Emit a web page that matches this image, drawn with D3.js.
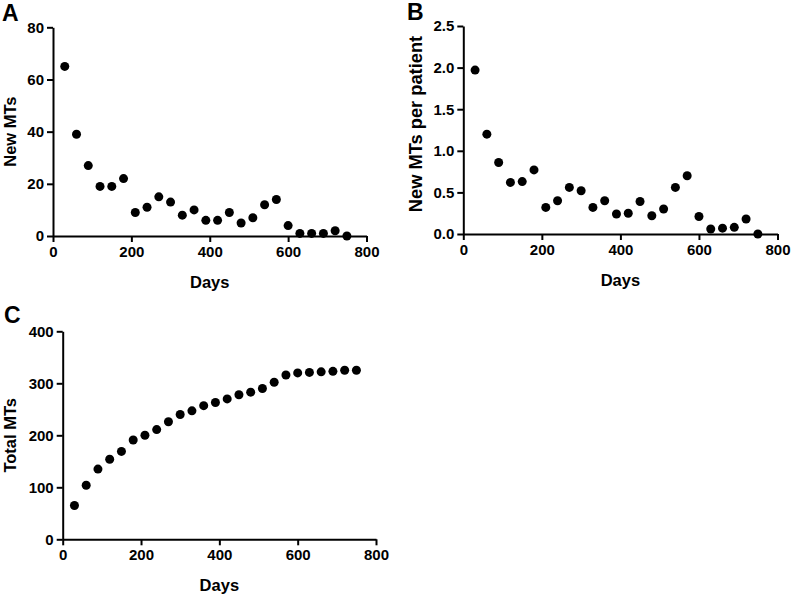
<!DOCTYPE html>
<html>
<head>
<meta charset="utf-8">
<script src="https://cdn.jsdelivr.net/npm/d3@7"></script>
<style>
  html, body { margin: 0; padding: 0; background: #fff; }
  svg { display: block; }
  text { font-family: "Liberation Sans", Arial, sans-serif; font-weight: bold; fill: #000; }
</style>
</head>
<body>
<svg id="chart" width="792" height="598"></svg>
<script>
// ---- data ----
const days = [30, 60, 90, 120, 150, 180, 210, 240, 270, 300, 330, 360, 390, 420, 450, 480, 510, 540, 570, 600, 630, 660, 690, 720, 750];
const newMTs = [65, 39, 27, 19, 19, 22, 9, 11, 15, 13, 8, 10, 6, 6, 9, 5, 7, 12, 14, 4, 1, 1, 1, 2, 0];
const newMTsPerPatient = [1.97, 1.2, 0.86, 0.62, 0.63, 0.77, 0.32, 0.40, 0.56, 0.52, 0.32, 0.40, 0.24, 0.25, 0.39, 0.22, 0.30, 0.56, 0.70, 0.21, 0.06, 0.07, 0.08, 0.18, 0.00];
const totalMTs = [65, 104, 135, 154, 169, 191, 200, 211, 226, 240, 247, 257, 263, 270, 278, 283, 290, 302, 316, 320, 321, 322, 323, 325, 325];
const xTicks = [0, 200, 400, 600, 800];
const yTicksA = [0, 20, 40, 60, 80];
const yTicksB = [0, 0.5, 1.0, 1.5, 2.0, 2.5];
const yTicksC = [0, 100, 200, 300, 400];

// ---- layout ----
const panels = [
  { letter: "A", values: newMTs, yTicks: yTicksA, yFmt: d3.format("d"), yTitle: "New MTs", yTitleSize: 16.5,
    x0: 53, x1: 366.5, yTop: 27.3, yBot: 236, letterX: 2, letterY: 21, yTitleX: 16, yTitleShift: 0 },
  { letter: "B", values: newMTsPerPatient, yTicks: yTicksB, yFmt: d3.format(".1f"), yTitle: "New MTs per patient", yTitleSize: 18.3,
    x0: 463.3, x1: 777.5, yTop: 26, yBot: 234, letterX: 407, letterY: 20, yTitleX: 422, yTitleShift: -6 },
  { letter: "C", values: totalMTs, yTicks: yTicksC, yFmt: d3.format("d"), yTitle: "Total MTs", yTitleSize: 16.5,
    x0: 62.7, x1: 376, yTop: 331.3, yBot: 539.3, letterX: 4, letterY: 323, yTitleX: 16, yTitleShift: 0 }
];

const svg = d3.select("#chart");

panels.forEach(p => {
  const x = d3.scaleLinear().domain([0, 800]).range([p.x0, p.x1]);
  const y = d3.scaleLinear().domain([p.yTicks[0], p.yTicks[p.yTicks.length - 1]]).range([p.yBot, p.yTop]);
  const g = svg.append("g");

  const xAxis = g.append("g").attr("transform", `translate(0,${p.yBot})`)
    .call(d3.axisBottom(x).tickValues(xTicks).tickFormat(d3.format("d")).tickSize(6).tickSizeOuter(0).tickPadding(4));
  const yAxis = g.append("g").attr("transform", `translate(${p.x0},0)`)
    .call(d3.axisLeft(y).tickValues(p.yTicks).tickFormat(p.yFmt).tickSize(6).tickSizeOuter(0).tickPadding(3));

  [xAxis, yAxis].forEach(a => {
    a.select(".domain").attr("stroke", "#000").attr("stroke-width", 2);
    a.selectAll(".tick line").attr("stroke", "#000").attr("stroke-width", 2);
    a.selectAll(".tick text").attr("font-size", 15).attr("font-family", "Liberation Sans, Arial, sans-serif").attr("font-weight", "bold").attr("fill", "#000");
  });

  g.selectAll("circle.dot").data(days).enter().append("circle")
    .attr("class", "dot")
    .attr("cx", d => x(d))
    .attr("cy", (d, i) => y(p.values[i]))
    .attr("r", 4.5)
    .attr("fill", "#000");

  g.append("text")
    .attr("x", (p.x0 + p.x1) / 2)
    .attr("y", p.yBot + 52)
    .attr("text-anchor", "middle")
    .attr("font-size", 16.5)
    .text("Days");

  g.append("text")
    .attr("transform", `translate(${p.yTitleX},${(p.yTop + p.yBot) / 2 + p.yTitleShift}) rotate(-90)`)
    .attr("text-anchor", "middle")
    .attr("font-size", p.yTitleSize)
    .text(p.yTitle);

  g.append("text")
    .attr("x", p.letterX)
    .attr("y", p.letterY)
    .attr("font-size", 23)
    .text(p.letter);
});
</script>
</body>
</html>
